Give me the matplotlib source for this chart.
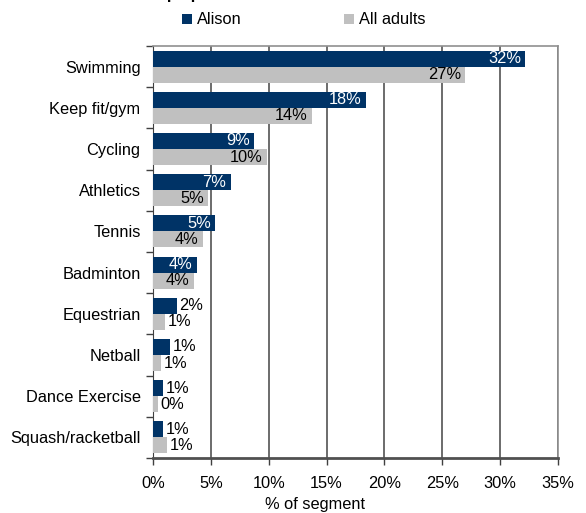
import matplotlib
matplotlib.use('Agg')
import matplotlib.pyplot as plt
import numpy as np

plt.rcParams['font.family'] = ['Liberation Sans', 'DejaVu Sans']

sports = ['Swimming', 'Keep fit/gym', 'Cycling', 'Athletics', 'Tennis',
          'Badminton', 'Equestrian', 'Netball', 'Dance Exercise', 'Squash/racketball']
alison = [32.15, 18.4, 8.7, 6.7, 5.4, 3.8, 2.05, 1.45, 0.83, 0.83]
all_adults = [27.0, 13.7, 9.85, 4.75, 4.3, 3.5, 1.04, 0.66, 0.4, 1.18]
x_ticks = [0, 5, 10, 15, 20, 25, 30, 35]

navy = '#003366'
grey = '#c0c0c0'
fs = 11.8

fig = plt.figure(figsize=(5.86, 5.13), dpi=100)
ax = fig.add_axes([153/586, 1 - 458/513, 405/586, 412/513])

y = np.arange(len(sports))
h = 0.39
b1 = ax.barh(y - h/2, alison, height=h, color=navy, label='Alison', zorder=3)
b2 = ax.barh(y + h/2, all_adults, height=h, color=grey, label='All adults', zorder=3)

# data labels: inside end when the bar is wide enough, outside otherwise
for bars, vals, col in [(b1, alison, 'white'), (b2, all_adults, 'black')]:
    for bar, v in zip(bars, vals):
        cy = bar.get_y() + bar.get_height() / 2
        txt = f'{v:.0f}%'
        if v >= 3:
            ax.annotate(txt, (v, cy), xytext=(-3, 0), textcoords='offset points',
                        ha='right', va='center', color=col, fontsize=fs, zorder=4)
        else:
            ax.annotate(txt, (v, cy), xytext=(2, 0), textcoords='offset points',
                        ha='left', va='center', color='black', fontsize=fs, zorder=4)

ax.set_xlim(0, 35)
ax.set_ylim(len(sports) - 0.5, -0.5)
ax.set_xticks(x_ticks)
ax.set_xticklabels([f'{t}%' for t in x_ticks], fontsize=fs)
ax.set_yticks(y)
ax.set_yticklabels(sports, fontsize=fs)
ax.set_yticks(np.arange(len(sports) + 1) - 0.5, minor=True)
ax.tick_params(axis='y', which='major', length=0, pad=9)
ax.tick_params(axis='y', which='minor', length=5, width=1, color='#404040')
ax.tick_params(axis='x', length=5, width=1, color='#404040', pad=8)

ax.grid(axis='x', color='#606060', linewidth=1.3, zorder=1)
for s in ['top', 'right']:
    ax.spines[s].set_color('#909090')
    ax.spines[s].set_linewidth(1.2)
ax.spines['left'].set_color('#404040')
ax.spines['bottom'].set_color('#505050')
ax.spines['bottom'].set_linewidth(2)

fig.text(315/586, 1 - 504/513, '% of segment', ha='center', va='center', fontsize=fs)

fig.legend(handles=[b1, b2], loc='center', bbox_to_anchor=(304/586, 1 - 20/513),
           ncol=2, frameon=False, fontsize=fs, handlelength=0.6, handleheight=0.6,
           handletextpad=0.3, columnspacing=6.25)

# chart title is mostly clipped by the top edge, as in the source image
fig.text(333/586, 1 + 0.5/513, 'Top sports that Alison would like to do more of',
         ha='center', va='baseline', fontsize=12, fontweight='bold')

fig.savefig('out.png', dpi=100)
